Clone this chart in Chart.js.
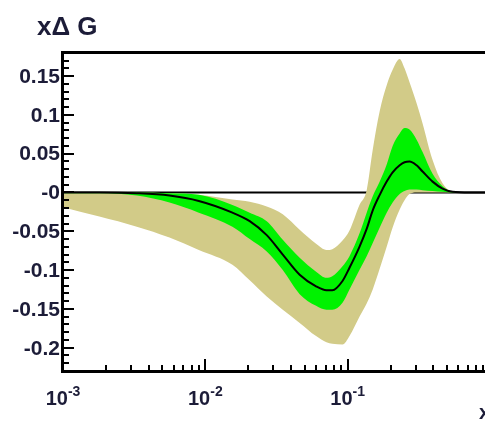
<!DOCTYPE html>
<html><head><meta charset="utf-8">
<script src="https://cdn.jsdelivr.net/npm/chart.js@4/dist/chart.umd.min.js"></script>
<style>
html,body{margin:0;padding:0;background:#fff;overflow:hidden;width:485px;height:424px}
#wrap{position:relative;width:500px;height:424px}
</style>
</head><body><div id="wrap"><canvas id="c" width="500" height="424"></canvas></div>
<script>
// ---- data ----
const xValues    = [0.001, 0.0018, 0.0033, 0.0056, 0.009, 0.0155, 0.0205, 0.027, 0.035, 0.046, 0.06, 0.071, 0.078, 0.092, 0.103, 0.121, 0.136, 0.15, 0.168, 0.188, 0.207, 0.232, 0.251, 0.272, 0.305, 0.336, 0.395, 0.464, 0.546, 0.72, 1.0];
const central    = [0, 0, -0.001, -0.004, -0.011, -0.026, -0.037, -0.055, -0.080, -0.106, -0.121, -0.126, -0.126, -0.114, -0.097, -0.070, -0.047, -0.023, -0.003, 0.014, 0.026, 0.035, 0.039, 0.040, 0.035, 0.027, 0.014, 0.005, 0.001, 0, 0];
const greenUpper = [0, 0, 0, -0.001, -0.003, -0.016, -0.026, -0.037, -0.061, -0.084, -0.102, -0.110, -0.108, -0.095, -0.082, -0.053, -0.026, -0.005, 0.014, 0.036, 0.060, 0.076, 0.083, 0.081, 0.068, 0.052, 0.024, 0.008, 0.001, 0, 0];
const greenLower = [-0.001, -0.001, -0.004, -0.013, -0.026, -0.044, -0.060, -0.076, -0.100, -0.131, -0.146, -0.151, -0.151, -0.142, -0.125, -0.100, -0.082, -0.065, -0.045, -0.026, -0.013, -0.002, 0.002, 0.004, 0.004, 0.003, 0.002, 0.001, 0, 0, 0];
const khakiUpper = [0, 0, 0, -0.001, -0.003, -0.009, -0.012, -0.018, -0.028, -0.048, -0.066, -0.074, -0.073, -0.062, -0.049, -0.016, 0.003, 0.055, 0.105, 0.138, 0.158, 0.172, 0.160, 0.142, 0.115, 0.089, 0.042, 0.012, 0.001, 0, 0];
const khakiLower = [-0.019, -0.031, -0.044, -0.058, -0.074, -0.093, -0.113, -0.134, -0.151, -0.168, -0.185, -0.193, -0.195, -0.196, -0.185, -0.160, -0.143, -0.125, -0.098, -0.070, -0.045, -0.022, -0.010, -0.002, 0, 0, 0, 0, 0, 0, 0];
const zeroLineX  = [0.001, 1.0];
const zeroLineY  = [0, 0];

const yTickValues = [0.15, 0.1, 0.05, 0, -0.05, -0.1, -0.15, -0.2];
const yTickLabels = ['0.15', '0.1', '0.05', '-0', '-0.05', '-0.1', '-0.15', '-0.2'];
const xTickValues = [0.001, 0.01, 0.1];
const xTickBase   = ['10', '10', '10'];
const xTickExp    = ['-3', '-2', '-1'];
const yTitle = 'x\u0394 G';
const xTitle = 'x';

const KHAKI = '#d2cb88';
const GREEN = '#00f200';
const TEXT = '#1c1c38';

const pts = (xs, ys) => xs.map((x, i) => ({x: x, y: ys[i]}));
const common = {pointRadius: 0, borderWidth: 0, cubicInterpolationMode: 'monotone'};

const axesPlugin = {
  id: 'axesPlugin',
  afterDraw(chart) {
    const ctx = chart.ctx;
    const xs = chart.scales.x, ys = chart.scales.y;
    const a = chart.chartArea;
    const L = Math.round(a.left), B = Math.round(a.bottom), T = Math.round(a.top);
    ctx.save();
    ctx.fillStyle = '#000';
    // frame
    ctx.fillRect(L - 2, T - 1, 500, 3);
    ctx.fillRect(L - 2, T - 1, 3, B - T + 3);
    ctx.fillRect(L - 2, B - 1, 500, 3);
    // y ticks (inside)
    for (let i = -23; i <= 18; i++) {
      const y = Math.round(ys.getPixelForValue(i / 100));
      const len = (i % 5 === 0) ? 11 : 6;
      ctx.fillRect(L, y - 1, len, 2);
    }
    // x ticks (inside)
    for (let d = -3; d <= 0; d++) {
      for (let m = 1; m <= 9; m++) {
        const v = m * Math.pow(10, d);
        if (v < 0.000999 || v > 1.0001) continue;
        const x = Math.round(xs.getPixelForValue(v));
        const len = (m === 1) ? 12 : 6;
        ctx.fillRect(x - 1, B - len, 2, len);
      }
    }
    // y labels
    ctx.fillStyle = TEXT;
    ctx.font = 'bold 21px "Liberation Sans", Arial, sans-serif';
    ctx.textAlign = 'right';
    ctx.textBaseline = 'middle';
    yTickValues.forEach((v, i) => {
      ctx.fillText(yTickLabels[i], L - 3, ys.getPixelForValue(v) + 1);
    });
    // x labels
    ctx.textBaseline = 'alphabetic';
    xTickValues.forEach((v, i) => {
      const x = xs.getPixelForValue(v);
      ctx.font = 'bold 20px "Liberation Sans", Arial, sans-serif';
      const wb = ctx.measureText(xTickBase[i]).width;
      ctx.font = 'bold 14px "Liberation Sans", Arial, sans-serif';
      const we = ctx.measureText(xTickExp[i]).width;
      const start = x - (wb + we) / 2;
      ctx.textAlign = 'left';
      ctx.font = 'bold 20px "Liberation Sans", Arial, sans-serif';
      ctx.fillText(xTickBase[i], start, 405);
      ctx.font = 'bold 14px "Liberation Sans", Arial, sans-serif';
      ctx.fillText(xTickExp[i], start + wb, 396);
    });
    // titles
    ctx.textAlign = 'left';
    ctx.font = 'bold 26px "Liberation Sans", Arial, sans-serif';
    ctx.fillText(yTitle, 37, 35);
    ctx.font = 'bold 20px "Liberation Sans", Arial, sans-serif';
    ctx.fillText(xTitle, 479, 419);
    ctx.restore();
  }
};

new Chart(document.getElementById('c'), {
  type: 'line',
  data: {
    datasets: [
      {label: 'zero', data: pts(zeroLineX, zeroLineY), borderColor: '#000', borderWidth: 2, pointRadius: 0, fill: false, order: 10},
      Object.assign({label: 'outer+', data: pts(xValues, khakiUpper), backgroundColor: KHAKI, borderColor: KHAKI, fill: {target: 2}, order: 8}, common),
      Object.assign({label: 'outer-', data: pts(xValues, khakiLower), borderColor: KHAKI, fill: false, order: 7}, common),
      Object.assign({label: 'inner+', data: pts(xValues, greenUpper), backgroundColor: GREEN, borderColor: GREEN, fill: {target: 4}, order: 6}, common),
      Object.assign({label: 'inner-', data: pts(xValues, greenLower), borderColor: GREEN, fill: false, order: 5}, common),
      {label: 'central', data: pts(xValues, central), borderColor: '#000', borderWidth: 2, pointRadius: 0, fill: false, cubicInterpolationMode: 'monotone', order: 1}
    ]
  },
  options: {
    responsive: false,
    animation: false,
    devicePixelRatio: 1,
    layout: {padding: {left: 63, top: 52, right: 10, bottom: 53}},
    plugins: {legend: {display: false}, tooltip: {enabled: false}},
    scales: {
      x: {type: 'logarithmic', min: 0.001, max: 1, display: false},
      y: {type: 'linear', min: -0.23, max: 0.181, display: false}
    }
  },
  plugins: [axesPlugin]
});
</script>
</body></html>
